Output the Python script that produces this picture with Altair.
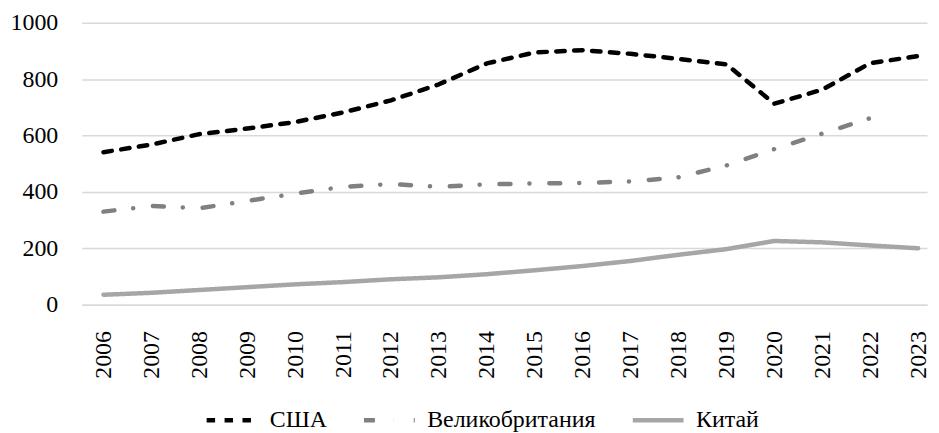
import altair as alt
import pandas as pd

years = ["2006", "2007", "2008", "2009", "2010", "2011", "2012", "2013", "2014",
         "2015", "2016", "2017", "2018", "2019", "2020", "2021", "2022", "2023"]
usa = [541, 568, 605, 625, 648, 682, 725, 782, 856, 895, 903, 890, 872, 853, 713, 763, 857, 882]
uk = [330, 350, 342, 368, 394, 418, 428, 418, 427, 430, 432, 437, 452, 494, 552, 607, 662, None]
china = [35, 42, 52, 62, 72, 80, 90, 97, 108, 122, 137, 155, 177, 197, 226, 221, 210, 200]
series_names = ["США", "Великобритания", "Китай"]
series_colors = ["#000000", "#808080", "#a6a6a6"]
series_dash = [[8.5, 9.5], [11, 19, 0.1, 19.9], [1, 0]]

rows = []
for name, vals in zip(series_names, [usa, uk, china]):
    for y, v in zip(years, vals):
        if v is not None:
            rows.append({"year": y, "value": v, "series": name})
df = pd.DataFrame(rows)

FONT = "Liberation Serif"

chart = alt.Chart(df).mark_line(
    strokeWidth=4.5, strokeCap="round", strokeJoin="round", interpolate="linear"
).encode(
    x=alt.X("year:O", sort=years,
            scale=alt.Scale(type="point", padding=0.32, align=0.71),
            axis=alt.Axis(title=None, labelAngle=-90, labelFont=FONT, labelFontSize=24,
                          labelColor="#000000", labelPadding=26, ticks=False,
                          domain=True, domainColor="#d9d9d9", domainWidth=1.5,
                          grid=False, labelAlign="right", labelBaseline="middle")),
    y=alt.Y("value:Q",
            scale=alt.Scale(domain=[0, 1000], nice=False),
            axis=alt.Axis(title=None, values=[0, 200, 400, 600, 800, 1000], format="d",
                          labelFont=FONT, labelFontSize=24, labelColor="#000000",
                          labelPadding=24, ticks=False, domain=False,
                          gridColor="#d9d9d9", gridWidth=1.5)),
    color=alt.Color("series:N",
                    scale=alt.Scale(domain=series_names, range=series_colors),
                    legend=alt.Legend(title=None, orient="none", direction="horizontal",
                                      legendX=123, legendY=371,
                                      symbolType="stroke", symbolSize=2600,
                                      symbolStrokeWidth=4.5,
                                      labelFont=FONT, labelFontSize=24, labelLimit=400,
                                      labelColor="#000000", labelOffset=10,
                                      columnPadding=27)),
    strokeDash=alt.StrokeDash("series:N",
                              scale=alt.Scale(domain=series_names, range=series_dash),
                              legend=None),
).properties(
    width=849, height=283,
    padding={"left": 2, "top": 2, "right": 0, "bottom": 0},
).configure_view(stroke=None)

chart.save("out.html", embed_options={"renderer": "svg", "actions": False})
